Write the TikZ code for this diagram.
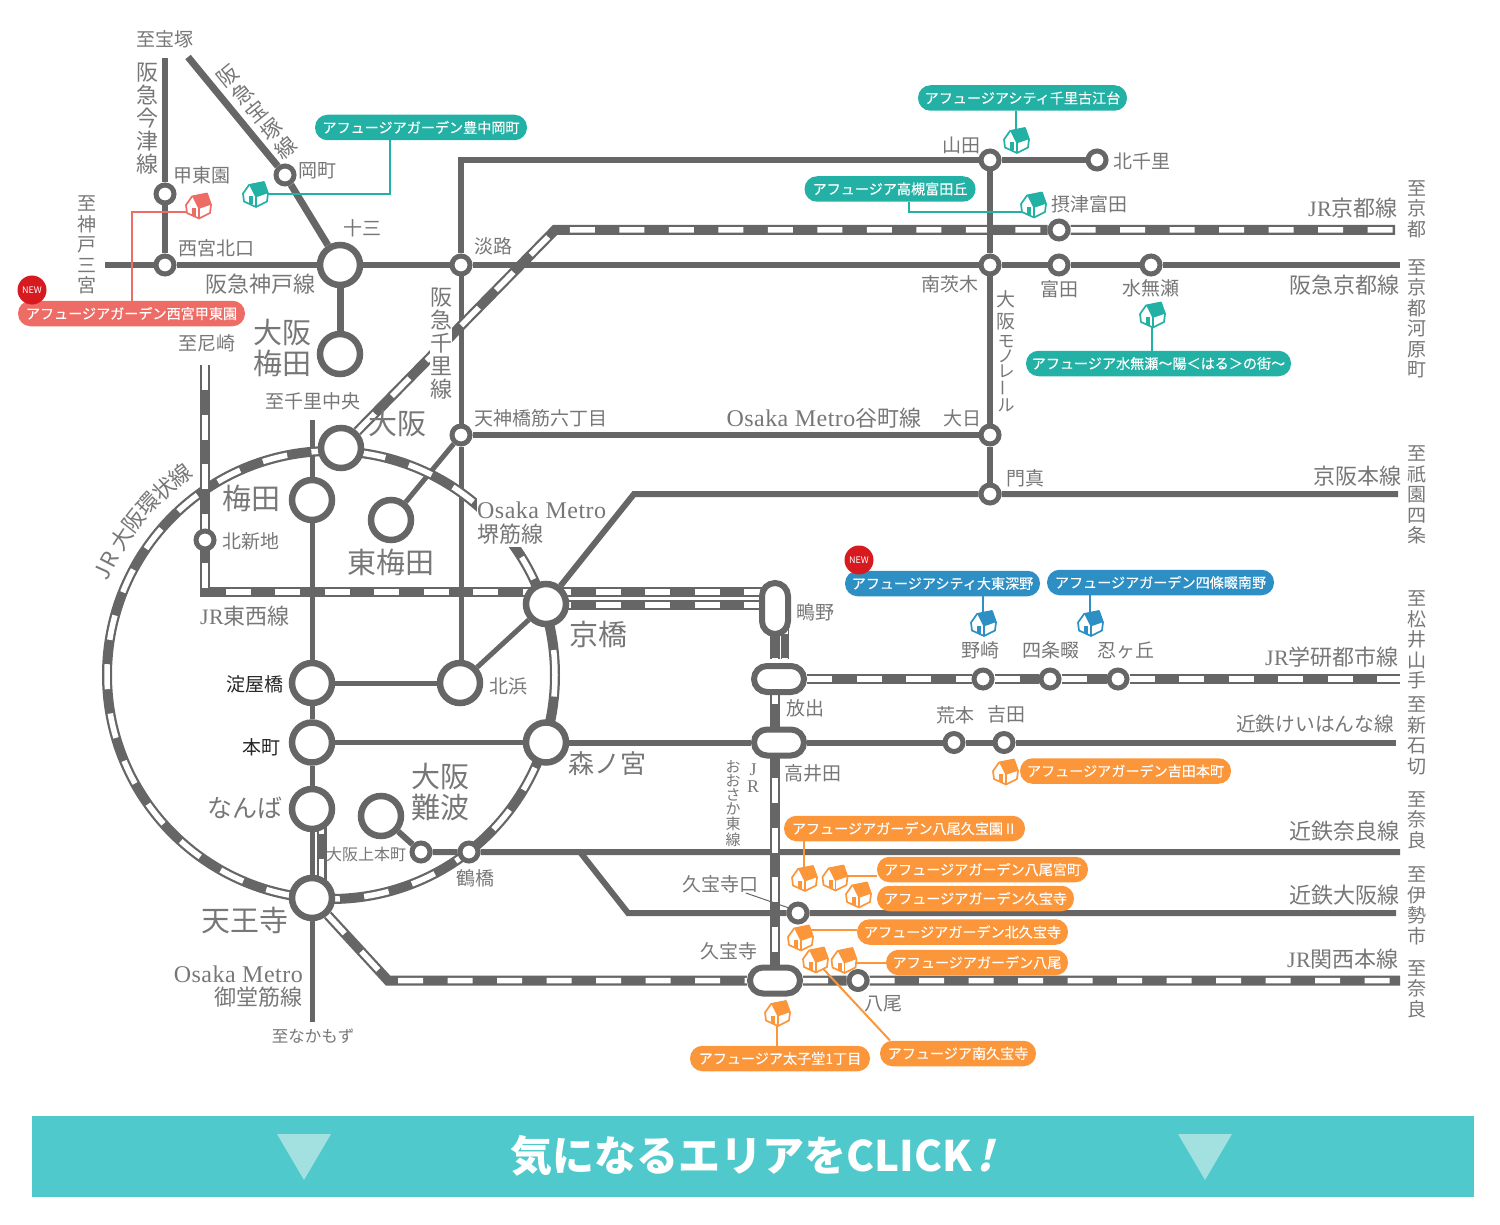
\documentclass[tikz,border=0pt]{standalone}
\usepackage{fontspec}
\usetikzlibrary{backgrounds}
\setmainfont{Noto Sans CJK JP}
\newfontfamily\latn[LetterSpace=2]{Liberation Serif}
\newfontfamily\tagfont[FakeBold=0.25]{Noto Sans CJK JP}
\newfontfamily\slantfont[FakeSlant=0.25]{Noto Sans CJK JP Bold}
\definecolor{railgray}{HTML}{666666}
\definecolor{labgray}{HTML}{777777}
\definecolor{tagred}{HTML}{EE6C66}
\definecolor{tagteal}{HTML}{23B1A5}
\definecolor{tagblue}{HTML}{2E8FC4}
\definecolor{tagorange}{HTML}{FC963A}
\definecolor{newred}{HTML}{D71920}
\definecolor{barteal}{HTML}{4FC9CC}
\definecolor{barmark}{HTML}{A3E0E0}
\tikzset{
  stbig/.style={circle,draw=railgray,fill=white,line width=6.5pt,minimum size=40pt,inner sep=0pt},
  stsmall/.style={circle,draw=railgray,fill=white,line width=5pt,minimum size=18pt,inner sep=0pt},
  stlong/.style={rectangle,rounded corners=13pt,draw=railgray,fill=white,line width=6pt,inner sep=0pt},
  rail/.style={draw=railgray,line width=6pt},
  railthin/.style={draw=railgray,line width=5pt},
  jrrail/.style={draw=railgray,line width=10pt,postaction={draw=white,line width=5.5pt,dash pattern=on 25pt off 24.5pt}},
  stlab/.style={text=labgray,inner sep=0pt,align=center,font=\fontsize{19}{20.5}\selectfont},
  linelab/.style={text=labgray,inner sep=0pt,align=center,font=\fontsize{22}{23}\selectfont},
  biglab/.style={text=labgray,inner sep=0pt,align=center,font=\fontsize{29}{31}\selectfont},
  tagbox/.style={rectangle,rounded corners=12.5pt,minimum height=25.5pt,inner sep=0pt,text=white,font=\tagfont\fontsize{14.1}{16}\selectfont},
  newbadge/.style={circle,fill=newred,minimum size=29pt,inner sep=0pt,text=white,font=\fontsize{9}{10}\selectfont},
  tagline/.style={line width=2pt},
  house/.pic={
    \filldraw[draw=#1,fill=white,line width=1.7pt,line join=round] (-12,-1) -- (-6,-9.5) -- (9,-12.5) -- (13,-1) -- (12,7) -- (1,12.5) -- (-11,7) -- cycle;
    \fill[fill=#1] (-6,-10) -- (9,-13) -- (13.5,-1.5) -- (0.5,3) -- cycle;
    \fill[fill=#1] (-6,2) rectangle (-2,10);
    \draw[draw=#1,line width=1.7pt] (1,2) -- (1,12);
  }
}
\begin{document}
\begin{tikzpicture}[x=1pt,y=-1pt]
\useasboundingbox (0,0) rectangle (1500,1225);
% labels that hide the lines behind them
\node[linelab,fill=white] (lSenri) at (441,344) {阪\\急\\千\\里\\線};
\node[linelab,fill=white,anchor=west,minimum height=27pt] (lMetro) at (477,510) {{\latn\fontsize{24}{24}\selectfont Osaka Metro}};
\node[linelab,fill=white,anchor=west,minimum height=25pt] (lSakai) at (477,534) {堺筋線};
% stations
\foreach \nm/\x/\y in {juso/340/265,umedaH/340/354,osaka/341/448,umeda/312/500,higashi/391/520,kyobashi/546/604,
  yodoyabashi/312/683,kitahama/460/683,hommachi/312/742.5,morinomiya/546/742.5,namba/312/809,nambaK/381/816,tennoji/312/898}
  \node[stbig] (\nm) at (\x,\y) {};
\foreach \nm/\x/\y in {koto/165/194,nishinomiya/165/265,okamachi/285/175,awaji/461/265,tenroku/461/435,kitashinchi/205/540,
  yamada/990/160,kitasenri/1097/160,tomita/1059/230,minamiibaraki/990/265,tonda/1059/265,minase/1151/265,dainichi/990/435,
  kadoma/990/494,nozaki/983/679,shijo/1050/679,shinobu/1118/679,aramoto/954/742.5,yoshida/1004/742.5,uehommachi/421/852,
  tsuruhashi/469/852,kuhojiguchi/798/913,yao/858/980.5}
  \node[stsmall] (\nm) at (\x,\y) {};
\node[stlong,minimum width=26pt,minimum height=51pt] (shigino) at (775,608.5) {};
\node[stlong,minimum width=50pt,minimum height=26pt] (hanaten) at (779,679) {};
\node[stlong,minimum width=50pt,minimum height=26pt] (takaida) at (779,742.5) {};
\node[stlong,minimum width=50pt,minimum height=26pt] (kyuhoji) at (775,980.5) {};
% free ends of the lines
\foreach \nm/\x/\y in {endImazu/165/58,endTakara/188/57,endKobe/105/265,endKyoto/1400/265,endSenri/312/420,endNakamozu/312/1022,
  endKeihanna/1396/742.5,endNara/1400/852,forkOsaka/580/852,bendOsaka/628/913,endIse/1396/913,bendKeihan/634/494,endGion/1398/494,
  bendJR/555/230,endKyotoJ/1395/230,endAma/205/365,endGakken/1400/679,bendKansai/388/980.5,endKansai/1400/980.5,ringc/331/675,
  kuhoTip/789/908}
  \coordinate (\nm) at (\x,\y);
% station names
\foreach \nm/\x/\y/\txt in {lTakara/165/39/至宝塚,lKoto/202/175/甲東園,lOka/317/171/岡町,lJuso/362/228/十三,lAwaji/493/246/淡路,
  lNishi/216/248/西宮北口,lKobeEnd/87/245/至\\神\\戸\\三\\宮,lAma/207/343/至尼崎,lSenriC/313/401/至千里中央,lTenroku/541/418/天神橋筋六丁目,
  lDainichi/962/418/大日,lKadoma/1025/478/門真,lKitaS/1142/161/北千里,lYamada/961/145/山田,lTomita/1089/204/摂津富田,
  lMinami/950/284/南茨木,lTonda/1059/289/富田,lMinase/1151/288/水無瀬,lShinchi/251/541/北新地,lKitahama/508/686/北浜,
  lTsuru/475/878/鶴橋,lShigino/815/612/鴫野,lHanaten/805/708/放出,lTakaida/813/773/高井田,
  lAra/955/715/荒本,lYoshida/1006/714/吉田,lNozaki/980/650/野崎,lShijo/1051/650/四条畷,lShinobu/1126/650/忍ヶ丘,
  lKuhoG/720/884/久宝寺口,lKuho/729/951/久宝寺,lYao/883/1004/八尾,
  lToKyoto/1417/209/至\\京\\都,lToKawara/1417/319/至\\京\\都\\河\\原\\町,lToGion/1417/495/至\\祇\\園\\四\\条,
  lToMatsu/1417/640/至\\松\\井\\山\\手,lToShin/1417/736/至\\新\\石\\切,lToNara/1417/820/至\\奈\\良,
  lToIse/1417/906/至\\伊\\勢\\市,lToNaraB/1417/989/至\\奈\\良}
  \node[stlab] (\nm) at (\x,\y) {\txt};
\node[stlab,font=\fontsize{16.5}{18}\selectfont] (lNaka) at (313,1036) {至なかもず};
\node[stlab,text=black!85] (lYodo) at (255,684) {淀屋橋};
\node[stlab,text=black!85] (lHon) at (261,747) {本町};
\node[stlab,font=\fontsize{16}{18}\selectfont] (lUehon) at (366,854) {大阪上本町};
% line names
\foreach \nm/\x/\y/\txt in {lImazu/147/119/阪\\急\\今\\津\\線,lKobe/260/284/阪急神戸線,lJRKyoto/1353/208/{\latn JR}京都線,
  lHankyuK/1344/285/阪急京都線,lKeihan/1357/476/京阪本線,lTozai/245/616/{\latn JR}東西線,lGakken/1332/657/{\latn JR}学研都市線,
  lKNara/1344/831/近鉄奈良線,lKOsaka/1344/895/近鉄大阪線,lKansai/1343/959/{\latn JR}関西本線}
  \node[linelab] (\nm) at (\x,\y) {\txt};
\node[linelab,font=\fontsize{19.7}{22}\selectfont] (lKeihanna) at (1315,724) {近鉄けいはんな線};
\node[linelab] (lTani) at (824,418) {{\latn\fontsize{24}{24}\selectfont Osaka Metro}谷町線};
\node[linelab,anchor=east,align=right] (lMido) at (303,987) {{\latn\fontsize{24}{24}\selectfont Osaka Metro}\\御堂筋線};
\node[stlab,font=\fontsize{21}{23}\selectfont,rotate=39] (lTakaraz) at (257,112) {阪\\急\\宝\\塚\\線};
\foreach \nm/\a/\txt in {rJ/24/J,rR/27.5/R,rDai/33/大,rHan/38/阪,rKan/43/環,rJo/48/状,rSen/53/線}
  \node[linelab,rotate=90-\a] (\nm) at ({331-250*cos(\a)},{675-250*sin(\a)}) {\txt};
\node[stlab,font=\fontsize{19}{15}\selectfont] (lMono) at (1006,351) {大\\[5pt]阪\\[4pt]{\fontsize{17}{15}\selectfont モ}\\{\fontsize{17}{15}\selectfont ノ}\\{\fontsize{17}{15}\selectfont レ}\\\rotatebox{90}{\fontsize{17}{15}\selectfont ー}\\{\fontsize{17}{15}\selectfont ル}};
\node[stlab,font=\fontsize{18}{17}\selectfont] (lJ) at (753,778) {{\latn J}\\{\latn R}};
\node[stlab,font=\fontsize{15}{14}\selectfont] (lHigashi) at (733,804) {お\\お\\さ\\か\\[1pt]東\\[2pt]線};
% big station names
\foreach \nm/\x/\y/\txt in {lUmedaH/282/348/大阪\\梅田,lOsaka/397/424/大阪,lUmeda/251/498/梅田,lHigashiU/391/562/東梅田,
  lKyobashi/598/634/京橋,lNambaK/440/792/大阪\\難波,lTennoji/245/920/天王寺}
  \node[biglab] (\nm) at (\x,\y) {\txt};
\node[biglab,font=\fontsize{26}{28}\selectfont] (lMori) at (607,764) {森ノ宮};
\node[biglab,font=\fontsize{25}{27}\selectfont] (lNamba) at (245,808) {なんば};
% houses
\foreach \nm/\x/\y/\col in {hNishi/198/206/tagred,hToyo/255/194.5/tagteal,hFurue/1016/140.5/tagteal,hTomi/1033/205/tagteal,
  hMina/1152/315/tagteal,hDaito/983/623.5/tagblue,hShijo/1090/623.5/tagblue,hYoshi/1005/772/tagorange,
  hKubo/804/878.5/tagorange,hMiya/834.5/878/tagorange,hKuho/858/895/tagorange,hKita/800/938/tagorange,
  hMinami/815/960/tagorange,hYao/843.5/960.5/tagorange,hTaishi/777/1013.5/tagorange}{
  \coordinate (\nm) at (\x,\y);
  \pic at (\nm) {house=\col};
}
% property tags
\foreach \nm/\x/\y/\w/\col/\txt in {tToyo/421/127.5/212/tagteal/アフュージアガーデン豊中岡町,
  tNishi/131.5/313.5/227/tagred/アフュージアガーデン西宮甲東園,
  tFurue/1022.5/98/209/tagteal/アフュージアシティ千里古江台,
  tTomi/890/189/171/tagteal/アフュージア高槻富田丘,
  tMina/1158.5/363.5/265/tagteal/アフュージア水無瀬〜陽＜はる＞の街〜,
  tDaito/942.5/583.5/195/tagblue/アフュージアシティ大東深野,
  tShijo/1160.5/582.5/227/tagblue/アフュージアガーデン四條畷南野,
  tYoshi/1125.5/771/211/tagorange/アフュージアガーデン吉田本町,
  tKubo/904.5/828.5/241/tagorange/アフュージアガーデン八尾久宝園Ⅱ,
  tMiya/982.5/869.5/211/tagorange/アフュージアガーデン八尾宮町,
  tKuho/975.5/898.5/197/tagorange/アフュージアガーデン久宝寺,
  tKita/962.5/932/211/tagorange/アフュージアガーデン北久宝寺,
  tYao/977/962.5/182/tagorange/アフュージアガーデン八尾,
  tTaishi/780/1058.5/180/tagorange/アフュージア太子堂1丁目,
  tMinami/958/1053.5/156/tagorange/アフュージア南久宝寺}
  \node[tagbox,fill=\col,minimum width=\w pt] (\nm) at (\x,\y) {\txt};
\node[newbadge] (newA) at (32,290) {NEW};
\node[newbadge] (newB) at (859,560) {NEW};
% bottom bar
\fill[barteal] (32,1116) rectangle (1474,1197);
\foreach \x in {277,1178}
  \fill[barmark] (\x,1134) -- ++(54,0) -- ++(-27,46) -- cycle;
\node[text=white,inner sep=0pt,font=\fontsize{42}{44}\bfseries\selectfont] (click) at (752,1156) {気になるエリアをCLICK\hspace{5pt}{\slantfont !}};
% all the lines go under the stations
\begin{scope}[on background layer]
\draw[rail] (endImazu) -- (koto) -- (nishinomiya);
\draw[rail,line width=7pt] (endTakara) -- (okamachi) -- (juso);
\draw[rail] (endKobe) -- (nishinomiya) -- (juso) -- (awaji) -- (minamiibaraki) -- (tonda) -- (minase) -- (endKyoto);
\draw[rail,line width=7pt] (juso) -- (umedaH);
\draw[rail] (awaji) |- (yamada) -- (kitasenri);
\draw[railthin] (tenroku) -- (awaji);
\draw[railthin] (tenroku) -- (tenroku |- kitahama);
\draw[railthin] (tenroku) -- (higashi);
\draw[railthin] (kitahama) -- (kyobashi);
\draw[railthin] (yodoyabashi) -- (kitahama);
\draw[railthin] (hommachi) -- (morinomiya);
\draw[rail] (tenroku) -- (dainichi);
\draw[railthin] (endSenri) -- (umeda) -- (yodoyabashi) -- (hommachi) -- (namba) -- (tennoji) -- (endNakamozu);
\draw[rail] (kyobashi) -- (bendKeihan) -- (kadoma) -- (endGion);
\draw[rail] (morinomiya) -- (takaida) -- (aramoto) -- (yoshida) -- (endKeihanna);
\draw[rail] (nambaK) -- (uehommachi) -- (tsuruhashi) -- (endNara);
\draw[rail] (forkOsaka) -- (bendOsaka) -- (kuhojiguchi) -- (endIse);
% JR
\draw[jrrail] (ringc) circle [radius=224pt];
\draw[jrrail] (osaka) -- (bendJR) -- (tomita) -- (endKyotoJ);
\draw[jrrail] (endAma) |- ([yshift=12pt]kyobashi.center);
\draw[jrrail] ([yshift=12pt]kyobashi.center) -- ([yshift=16.5pt]shigino.center);
\draw[jrrail] ([yshift=-1pt]kyobashi.center) -- ([yshift=3.5pt]shigino.center);
\draw[jrrail] (shigino.center) -- +(0,50);
\draw[jrrail,line width=8pt] ([xshift=10pt]shigino.center) -- +(0,50);
\draw[jrrail] (hanaten) -- (nozaki) -- (shijo) -- (shinobu) -- (endGakken);
\draw[jrrail] (hanaten -| kyuhoji) -- (kyuhoji);
\draw[jrrail] (tennoji) -- (bendKansai) -- (kyuhoji) -- (yao) -- (endKansai);
\draw[jrrail] ([xshift=9.5pt]namba.center) -- ([xshift=9.5pt]tennoji.center);
\draw[rail] (yamada) -- (minamiibaraki) -- (dainichi) -- (kadoma);
\draw[railgray,line width=1pt] (lKuhoG) -- (kuhoTip);
% connectors of the tags
\draw[tagline,tagred] ([yshift=-6pt]hNishi) -| (tNishi);
\draw[tagline,tagteal] (hToyo) -| ([xshift=-31pt]tToyo.south);
\draw[tagline,tagteal] (hFurue) -- (hFurue |- tFurue.south);
\draw[tagline,tagteal] ([yshift=-7pt]hTomi) -| ([xshift=19pt]tTomi.south);
\draw[tagline,tagteal] (hMina) -- (hMina |- tMina.north);
\draw[tagline,tagblue] (hDaito) -- (hDaito |- tDaito.south);
\draw[tagline,tagblue] (hShijo) -- (hShijo |- tShijo.south);
\draw[tagline,tagorange] (hKubo) -- (hKubo |- tKubo.south);
\draw[tagline,tagorange] ([yshift=2pt]hMiya) -- ([yshift=2pt]hMiya -| tMiya.west);
\draw[tagline,tagorange] ([yshift=8pt]hKita) -- ([yshift=8pt]hKita -| tKita.west);
\draw[tagline,tagorange] ([yshift=-2.5pt]hYao) -- ([yshift=-2.5pt]hYao -| tYao.west);
\draw[tagline,tagorange] (hMinami) -- ([xshift=-68pt]tMinami.north);
\draw[tagline,tagorange] (hTaishi) -- (hTaishi |- tTaishi.north);
\end{scope}
\end{tikzpicture}
\end{document}
